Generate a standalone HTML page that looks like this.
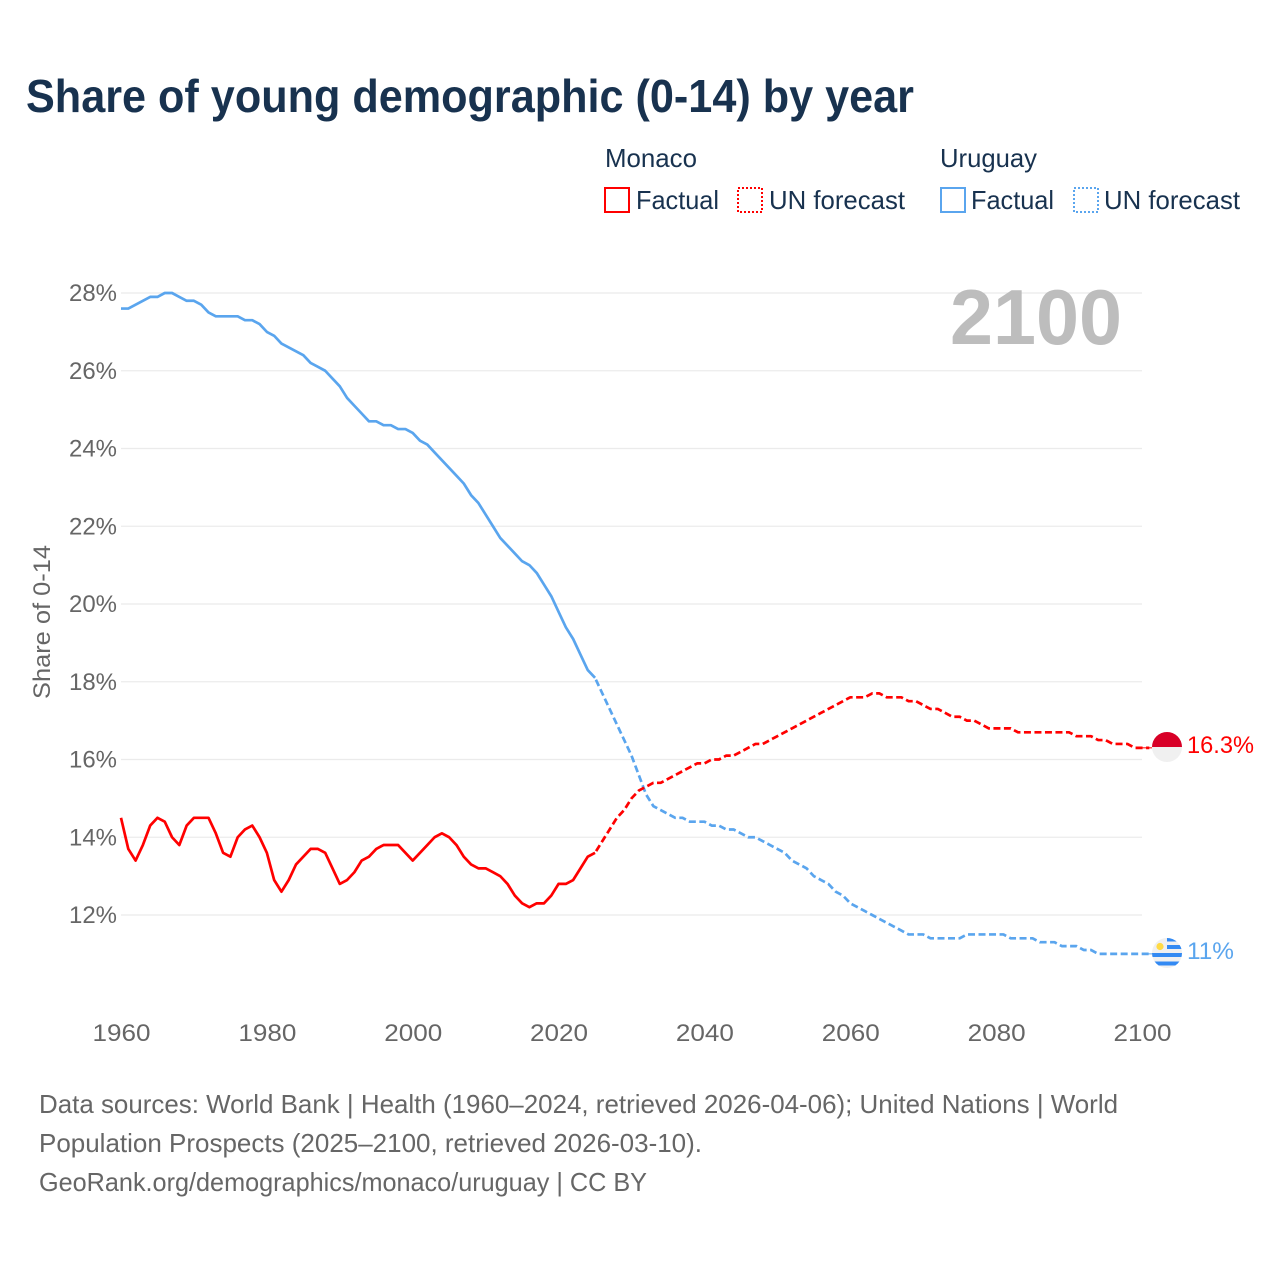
<!DOCTYPE html>
<html lang="en">
<head>
<meta charset="utf-8">
<title>Share of young demographic (0-14) by year</title>
<style>
html,body{margin:0;padding:0;background:#fff;width:1280px;height:1280px;overflow:hidden}
svg{display:block}
text{font-family:"Liberation Sans",sans-serif}
</style>
</head>
<body>
<svg id="chart" xmlns="http://www.w3.org/2000/svg" width="1280" height="1280" viewBox="0 0 1280 1280">
  <defs>
    <clipPath id="flag-clip-mc"><circle cx="1167" cy="747" r="15"/></clipPath>
    <clipPath id="flag-clip-uy"><circle cx="1167" cy="953" r="15"/></clipPath>
  </defs>
  <rect x="0" y="0" width="1280" height="1280" fill="#ffffff"/>
  <text x="26" y="112" font-size="46" font-weight="700" fill="#18324f" textLength="888" lengthAdjust="spacingAndGlyphs">Share of young demographic (0-14) by year</text>

  <g font-size="26" fill="#18324f">
    <text x="605" y="167" textLength="92" lengthAdjust="spacingAndGlyphs">Monaco</text>
    <rect x="605" y="188" width="24" height="24" fill="none" stroke="#ff0000" stroke-width="2"/>
    <text x="636" y="209" textLength="83" lengthAdjust="spacingAndGlyphs">Factual</text>
    <rect x="738" y="188" width="24" height="24" fill="none" stroke="#ff0000" stroke-width="2" stroke-dasharray="2 2"/>
    <text x="769" y="209" textLength="136" lengthAdjust="spacingAndGlyphs">UN forecast</text>
    <text x="940" y="167" textLength="97" lengthAdjust="spacingAndGlyphs">Uruguay</text>
    <rect x="941" y="188" width="24" height="24" fill="none" stroke="#5aa5ee" stroke-width="2"/>
    <text x="971" y="209" textLength="83" lengthAdjust="spacingAndGlyphs">Factual</text>
    <rect x="1074" y="188" width="24" height="24" fill="none" stroke="#5aa5ee" stroke-width="2" stroke-dasharray="2 2"/>
    <text x="1104" y="209" textLength="136" lengthAdjust="spacingAndGlyphs">UN forecast</text>
  </g>

  <g id="grid"></g>
  <text x="950" y="344" font-size="78" font-weight="700" fill="#bdbdbd" textLength="172" lengthAdjust="spacingAndGlyphs">2100</text>
  <g id="ticks" font-size="24" fill="#666666"></g>
  <text transform="translate(50,699) rotate(-90)" x="0" y="0" font-size="24" fill="#666666" textLength="154" lengthAdjust="spacingAndGlyphs">Share of 0-14</text>
  <g id="series"></g>

  <g clip-path="url(#flag-clip-mc)">
    <rect x="1152" y="732" width="30" height="30" fill="#f0f0f0"/>
    <rect x="1152" y="732" width="30" height="15" fill="#d80027"/>
  </g>
  <g clip-path="url(#flag-clip-uy)">
    <rect x="1152" y="938" width="30" height="30" fill="#f0f0f0"/>
    <rect x="1167" y="938" width="15" height="3.5" fill="#338af3"/>
    <rect x="1167" y="945" width="15" height="4" fill="#338af3"/>
    <rect x="1152" y="953" width="30" height="4" fill="#338af3"/>
    <rect x="1152" y="961.5" width="30" height="4" fill="#338af3"/>
    <circle cx="1160" cy="946.5" r="3.6" fill="#ffda44"/>
  </g>
  <text x="1187" y="753" font-size="24" fill="#ff0000" textLength="67" lengthAdjust="spacingAndGlyphs">16.3%</text>
  <text x="1187" y="959" font-size="24" fill="#5aa5ee" textLength="47" lengthAdjust="spacingAndGlyphs">11%</text>

  <g font-size="26" fill="#666666">
    <text x="39" y="1113" textLength="1079" lengthAdjust="spacingAndGlyphs">Data sources: World Bank | Health (1960–2024, retrieved 2026-04-06); United Nations | World</text>
    <text x="39" y="1152" textLength="663" lengthAdjust="spacingAndGlyphs">Population Prospects (2025–2100, retrieved 2026-03-10).</text>
    <text x="39" y="1191" textLength="608" lengthAdjust="spacingAndGlyphs">GeoRank.org/demographics/monaco/uruguay | CC BY</text>
  </g>
</svg>
<script>
const xTickYears = [1960, 1980, 2000, 2020, 2040, 2060, 2080, 2100];
const yTickValues = [12, 14, 16, 18, 20, 22, 24, 26, 28];
const factualStartYear = 1960;
const forecastStartYear = 2025;
const monacoFactual = [
  14.5,13.7,13.4,13.8,14.3,14.5,14.4,14.0,13.8,14.3,
  14.5,14.5,14.5,14.1,13.6,13.5,14.0,14.2,14.3,14.0,
  13.6,12.9,12.6,12.9,13.3,13.5,13.7,13.7,13.6,13.2,
  12.8,12.9,13.1,13.4,13.5,13.7,13.8,13.8,13.8,13.6,
  13.4,13.6,13.8,14.0,14.1,14.0,13.8,13.5,13.3,13.2,
  13.2,13.1,13.0,12.8,12.5,12.3,12.2,12.3,12.3,12.5,
  12.8,12.8,12.9,13.2,13.5,13.6
];
const monacoForecast = [
  13.6,13.9,14.2,14.5,14.7,15.0,
  15.2,15.3,15.4,15.4,15.5,15.6,15.7,15.8,15.9,15.9,
  16.0,16.0,16.1,16.1,16.2,16.3,16.4,16.4,16.5,16.6,
  16.7,16.8,16.9,17.0,17.1,17.2,17.3,17.4,17.5,17.6,
  17.6,17.6,17.7,17.7,17.6,17.6,17.6,17.5,17.5,17.4,
  17.3,17.3,17.2,17.1,17.1,17.0,17.0,16.9,16.8,16.8,
  16.8,16.8,16.7,16.7,16.7,16.7,16.7,16.7,16.7,16.7,
  16.6,16.6,16.6,16.5,16.5,16.4,16.4,16.4,16.3,16.3,16.3
];
const uruguayFactual = [
  27.6,27.6,27.7,27.8,27.9,27.9,28.0,28.0,27.9,27.8,
  27.8,27.7,27.5,27.4,27.4,27.4,27.4,27.3,27.3,27.2,
  27.0,26.9,26.7,26.6,26.5,26.4,26.2,26.1,26.0,25.8,
  25.6,25.3,25.1,24.9,24.7,24.7,24.6,24.6,24.5,24.5,
  24.4,24.2,24.1,23.9,23.7,23.5,23.3,23.1,22.8,22.6,
  22.3,22.0,21.7,21.5,21.3,21.1,21.0,20.8,20.5,20.2,
  19.8,19.4,19.1,18.7,18.3,18.1
];
const uruguayForecast = [
  18.1,17.7,17.3,16.9,16.5,16.1,
  15.6,15.1,14.8,14.7,14.6,14.5,14.5,14.4,14.4,14.4,
  14.3,14.3,14.2,14.2,14.1,14.0,14.0,13.9,13.8,13.7,
  13.6,13.4,13.3,13.2,13.0,12.9,12.8,12.6,12.5,12.3,
  12.2,12.1,12.0,11.9,11.8,11.7,11.6,11.5,11.5,11.5,
  11.4,11.4,11.4,11.4,11.4,11.5,11.5,11.5,11.5,11.5,
  11.5,11.4,11.4,11.4,11.4,11.3,11.3,11.3,11.2,11.2,
  11.2,11.1,11.1,11.0,11.0,11.0,11.0,11.0,11.0,11.0,11.0
];

const NS = 'http://www.w3.org/2000/svg';
const plotLeft = 121, plotRight = 1142;
function xScale(year) { return plotLeft + (year - 1960) * (plotRight - plotLeft) / 140; }
function yScale(value) { return 293 + (28 - value) * 38.875; }
function linePath(values, startYear) {
  return values.map(function (v, i) {
    return (i ? 'L' : 'M') + xScale(startYear + i).toFixed(2) + ' ' + yScale(v).toFixed(2);
  }).join(' ');
}

const grid = document.getElementById('grid');
const ticks = document.getElementById('ticks');
const seriesGroup = document.getElementById('series');

yTickValues.forEach(function (v) {
  const line = document.createElementNS(NS, 'line');
  
  
  line.setAttribute('x1', plotLeft);
  line.setAttribute('x2', plotRight);
  line.setAttribute('y1', yScale(v));
  line.setAttribute('y2', yScale(v));
  line.setAttribute('stroke', '#ebebeb');
  line.setAttribute('stroke-width', '1.3');
  grid.appendChild(line);

  const label = document.createElementNS(NS, 'text');
  
  
  label.setAttribute('x', 69);
  label.setAttribute('y', yScale(v) + 8);
  label.setAttribute('textLength', '48');
  label.setAttribute('lengthAdjust', 'spacingAndGlyphs');
  label.textContent = v + '%';
  ticks.appendChild(label);
});

xTickYears.forEach(function (year) {
  const label = document.createElementNS(NS, 'text');
  
  
  label.setAttribute('x', xScale(year) - 28.5);
  label.setAttribute('y', 1041);
  label.setAttribute('textLength', '58');
  label.setAttribute('lengthAdjust', 'spacingAndGlyphs');
  label.textContent = year;
  ticks.appendChild(label);
});

function addLine(values, startYear, color, dashed, name) {
  const path = document.createElementNS(NS, 'path');
  
  
  path.setAttribute('d', linePath(values, startYear));
  path.setAttribute('fill', 'none');
  path.setAttribute('stroke', color);
  path.setAttribute('stroke-width', '2.7');
  path.setAttribute('stroke-linejoin', 'round');
  if (dashed) {
    path.setAttribute('stroke-dasharray', '7 3.5');
    path.setAttribute('stroke-dashoffset', '8.5');
  }
  seriesGroup.appendChild(path);
}
addLine(uruguayFactual, factualStartYear, '#5aa5ee', false, 'line-uruguay-factual');
addLine(uruguayForecast, forecastStartYear, '#5aa5ee', true, 'line-uruguay-forecast');
addLine(monacoFactual, factualStartYear, '#ff0000', false, 'line-monaco-factual');
addLine(monacoForecast, forecastStartYear, '#ff0000', true, 'line-monaco-forecast');

function addLeader(value, color, name) {
  const leader = document.createElementNS(NS, 'line');
  
  
  leader.setAttribute('x1', plotRight);
  leader.setAttribute('x2', 1152);
  leader.setAttribute('y1', yScale(value));
  leader.setAttribute('y2', yScale(value));
  leader.setAttribute('stroke', color);
  leader.setAttribute('stroke-width', '1');
  seriesGroup.appendChild(leader);
}
addLeader(monacoForecast[monacoForecast.length - 1], '#ff0000', 'leader-monaco');
addLeader(uruguayForecast[uruguayForecast.length - 1], '#5aa5ee', 'leader-uruguay');
</script>
</body>
</html>
